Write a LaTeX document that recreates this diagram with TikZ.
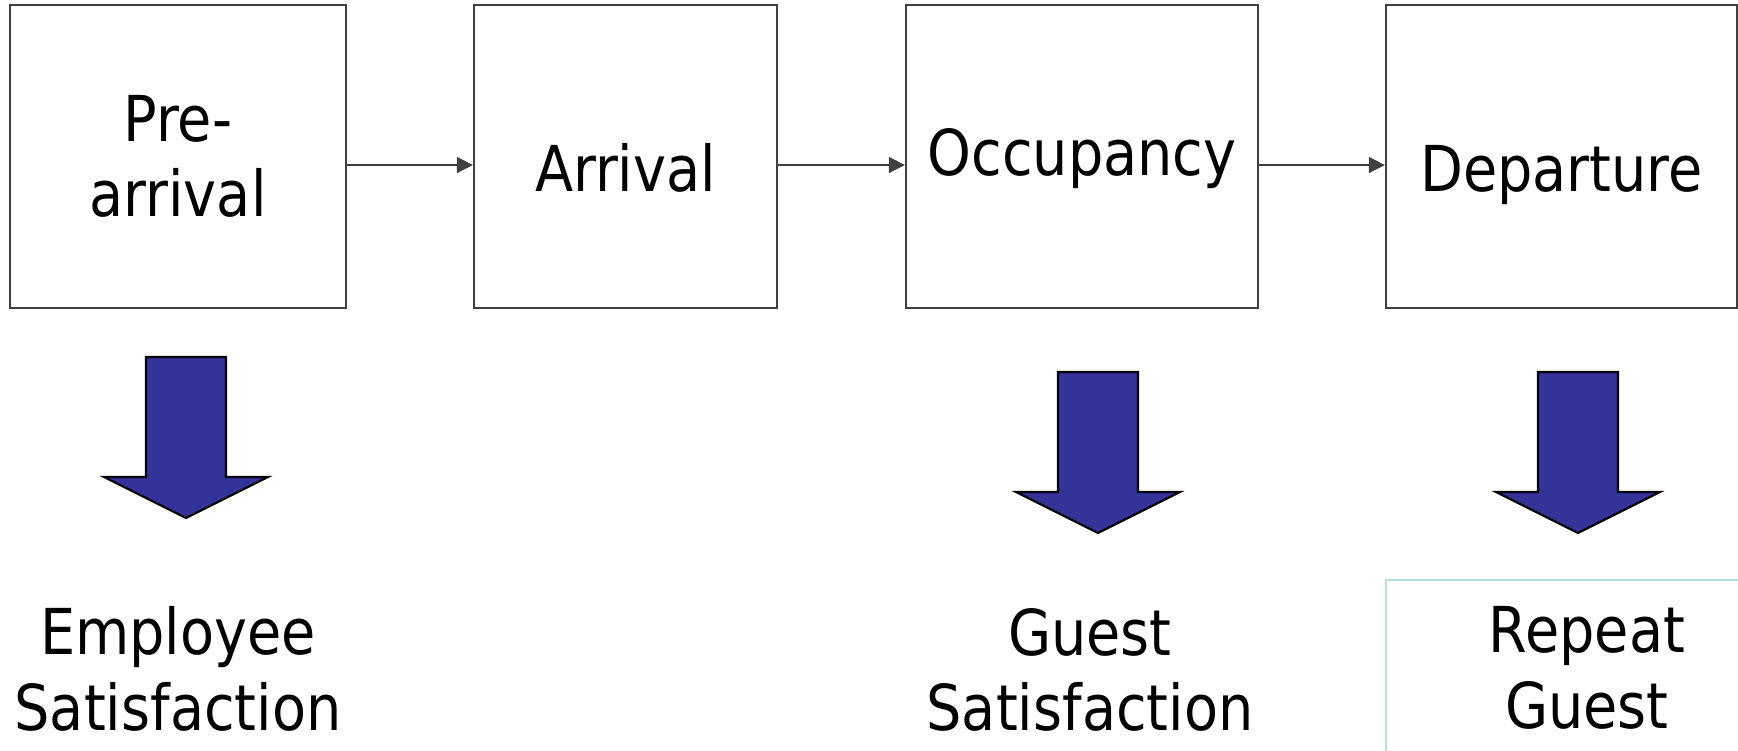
\documentclass[tikz,border=0pt]{standalone}
\usepackage{fontspec}
\setmainfont{DejaVu Sans}[FakeStretch=0.88]
\usetikzlibrary{arrows.meta}
\tikzset{
  stage/.style = {draw = boxgray, line width = 0.57pt, inner sep = 0pt, align = center, font = \fontsize{18}{21.5}\selectfont},
  oneline/.style = {text height = 0.8cm, text depth = 0.1cm},
  result/.style = {inner sep = 0pt, align = center, font = \fontsize{18}{21.5}\selectfont},
  flow/.style = {draw = boxgray, line width = 0.42pt, -{Triangle[length = 0.16cm, width = 0.16cm]}}
}
\begin{document}
\begin{tikzpicture}[x = 0.01cm, y = -0.01cm]
\definecolor{boxgray}{RGB}{64,64,64}
\definecolor{arrowblue}{RGB}{51,51,153}
\definecolor{lightteal}{RGB}{182,222,226}
\useasboundingbox (0,0) rectangle (1738,750);
\node[stage, minimum width = 3.36cm, minimum height = 3.03cm] (pre) at (178,156.5) {Pre-\\arrival};
\node[stage, oneline, minimum width = 3.03cm, minimum height = 3.03cm] (arr) at (625.5,156.5) {Arrival};
\node[stage, minimum width = 3.52cm, minimum height = 3.03cm, text height = 0.6cm, text depth = 0.22cm] (occ) at (1082,156.5) {Occupancy};
\node[stage, oneline, minimum width = 3.51cm, minimum height = 3.03cm] (dep) at (1561.5,156.5) {Departure};
\draw[flow] ([yshift = -0.085cm]pre.east) -- ([yshift = -0.085cm]arr.west);
\draw[flow] ([yshift = -0.085cm]arr.east) -- ([yshift = -0.085cm]occ.west);
\draw[flow] ([yshift = -0.085cm]occ.east) -- ([yshift = -0.085cm]dep.west);
\foreach \cx/\ty in {186/357,1098/372,1578/372}
  \draw[fill = arrowblue, draw = black, line width = 0.6pt] (\cx-40,\ty) -- (\cx+40,\ty) -- (\cx+40,\ty+120) -- (\cx+82,\ty+120) -- (\cx,\ty+161) -- (\cx-82,\ty+120) -- (\cx-40,\ty+120) -- cycle;
\node[result] (emp) at (178,669) {Employee\\Satisfaction};
\node[result] (gst) at (1090,670) {Guest\\Satisfaction};
\node[result, draw = lightteal, line width = 0.45pt, minimum width = 4.02cm, minimum height = 1.76cm] (rep) at (1587,668) {Repeat\\Guest};
\end{tikzpicture}
\end{document}
